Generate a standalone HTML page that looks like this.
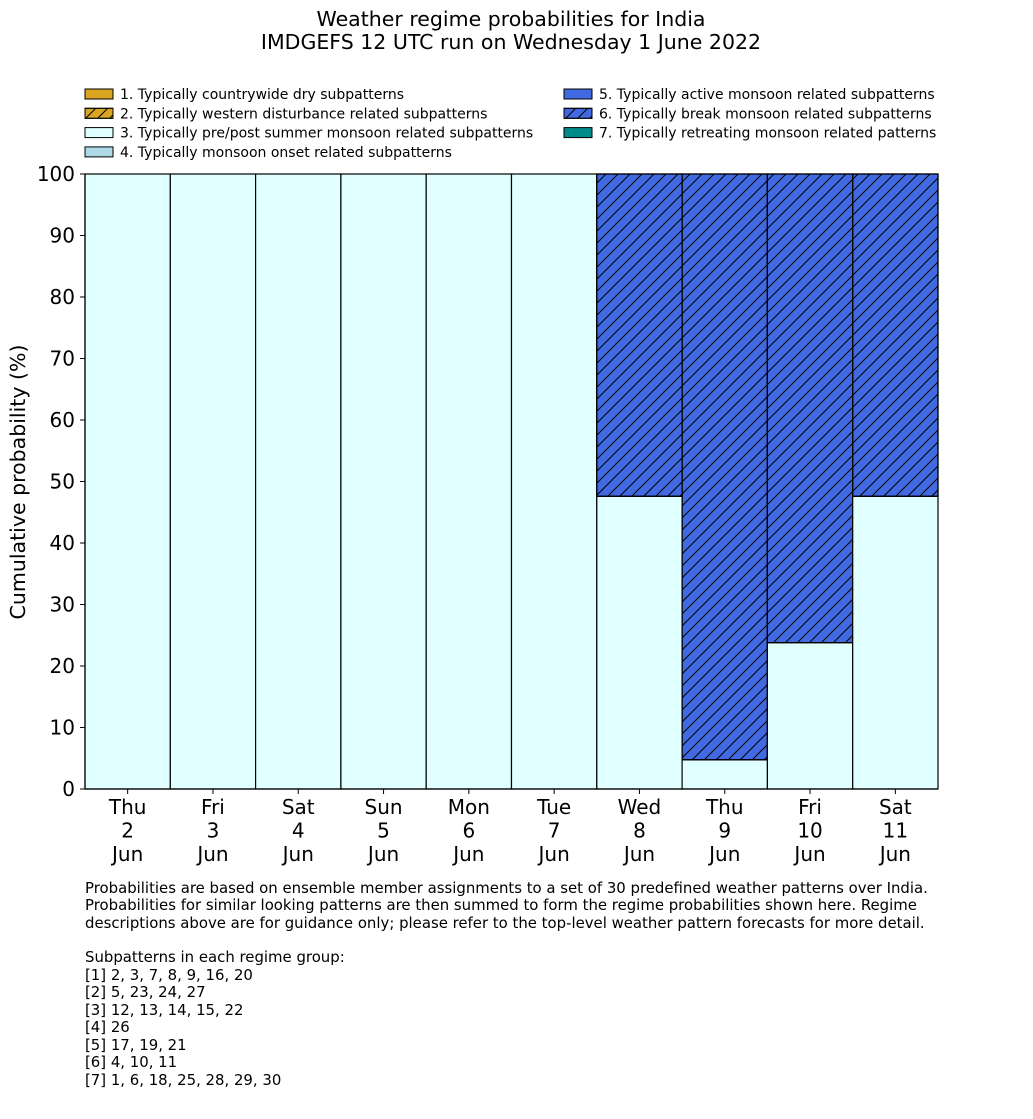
<!DOCTYPE html>
<html><head><meta charset="utf-8"><style>
body{margin:0;background:#fff}
svg text{font-family:"DejaVu Sans","Liberation Sans",sans-serif;fill:#000}
</style></head><body>
<svg id="chart" width="1033" height="1114" xmlns="http://www.w3.org/2000/svg">
<defs>
<pattern id="hatch" patternUnits="userSpaceOnUse" width="12" height="12">
<path d="M-3,3 L3,-3 M0,12 L12,0 M9,15 L15,9" stroke="#000" stroke-width="1"/>
</pattern>
</defs>
<rect width="1033" height="1114" fill="#fff"/>
<text x="511" y="26" font-size="20.5" text-anchor="middle">Weather regime probabilities for India</text>
<text x="511" y="49" font-size="20.5" text-anchor="middle">IMDGEFS 12 UTC run on Wednesday 1 June 2022</text>
<g id="legend"></g>
<g id="bars"></g>
<g id="axes"></g>
<text transform="translate(25,482) rotate(-90)" font-size="20.5" text-anchor="middle">Cumulative probability (%)</text>
<g font-size="14.9">
<text x="85" y="893">Probabilities are based on ensemble member assignments to a set of 30 predefined weather patterns over India.</text>
<text x="85" y="910">Probabilities for similar looking patterns are then summed to form the regime probabilities shown here. Regime</text>
<text x="85" y="928">descriptions above are for guidance only; please refer to the top-level weather pattern forecasts for more detail.</text>
<text x="85" y="962">Subpatterns in each regime group:</text>
<text x="85" y="980">[1] 2, 3, 7, 8, 9, 16, 20</text>
<text x="85" y="997">[2] 5, 23, 24, 27</text>
<text x="85" y="1015">[3] 12, 13, 14, 15, 22</text>
<text x="85" y="1032">[4] 26</text>
<text x="85" y="1050">[5] 17, 19, 21</text>
<text x="85" y="1067">[6] 4, 10, 11</text>
<text x="85" y="1085">[7] 1, 6, 18, 25, 28, 29, 30</text>
</g>
</svg>
<script>
const days=["Thu","Fri","Sat","Sun","Mon","Tue","Wed","Thu","Fri","Sat"];
const dates=["2","3","4","5","6","7","8","9","10","11"];
const regime3=[100,100,100,100,100,100,47.6,4.76,23.8,47.6];
const regime6=[0,0,0,0,0,0,52.4,95.24,76.2,52.4];
const yTicks=[0,10,20,30,40,50,60,70,80,90,100];
const legendLabels=["1. Typically countrywide dry subpatterns","2. Typically western disturbance related subpatterns","3. Typically pre/post summer monsoon related subpatterns","4. Typically monsoon onset related subpatterns","5. Typically active monsoon related subpatterns","6. Typically break monsoon related subpatterns","7. Typically retreating monsoon related patterns"];
const legendColors=["#daa520","#daa520","#e0ffff","#add8e6","#4169e1","#4169e1","#008b8b"];
const legendHatch=[false,true,false,false,false,true,false];
const NS="http://www.w3.org/2000/svg";
const X0=85,X1=938,Y0=789,Y1=174;
const bw=(X1-X0)/days.length;
const xs=i=>X0+i*bw;
const ys=v=>Y0-(v/100)*(Y0-Y1);
function mk(tag,attrs,parent){const e=document.createElementNS(NS,tag);for(const k in attrs)e.setAttribute(k,attrs[k]);parent.appendChild(e);return e;}
const bars=document.getElementById('bars');
days.forEach((d,i)=>{
  const a=regime3[i], b=regime6[i];
  const r=mk('rect',{x:xs(i),y:ys(a),width:bw,height:ys(0)-ys(a),fill:'#e0ffff',stroke:'#000','stroke-width':1.2},bars);
  
  
  if(b>0){
    const r2=mk('rect',{x:xs(i),y:ys(a+b),width:bw,height:ys(a)-ys(a+b),fill:'#4169e1',stroke:'#000','stroke-width':1.2},bars);
    
    
    const h=mk('rect',{x:xs(i),y:ys(a+b),width:bw,height:ys(a)-ys(a+b),fill:'url(#hatch)',stroke:'#000','stroke-width':1.2},bars);
    
    
  }
});
const ax=document.getElementById('axes');
mk('line',{x1:X0,y1:Y1,x2:X0,y2:Y0,stroke:'#000','stroke-width':1.2},ax);
mk('line',{x1:X0,y1:Y0,x2:X1,y2:Y0,stroke:'#000','stroke-width':1.2},ax);
yTicks.forEach(t=>{
  mk('line',{x1:X0-5,y1:ys(t),x2:X0,y2:ys(t),stroke:'#000'},ax);
  const tx=mk('text',{x:X0-10,y:ys(t)+7,'font-size':20,'text-anchor':'end'},ax);
  tx.textContent=t;
  
  
});
days.forEach((d,i)=>{
  const cx=xs(i)+bw/2;
  mk('line',{x1:cx,y1:Y0,x2:cx,y2:Y0+5,stroke:'#000'},ax);
  [d,dates[i],"Jun"].forEach((s,k)=>{
    const tx=mk('text',{x:cx,y:814+k*23.5,'font-size':20,'text-anchor':'middle'},ax);
    tx.textContent=s;
    
    
  });
});
const lg=document.getElementById('legend');
legendLabels.forEach((l,i)=>{
  const col=i<4?0:1, row=i<4?i:i-4;
  const px=col?564:85, py=89+row*19.3;
  mk('rect',{x:px,y:py,width:28,height:10,fill:legendColors[i],stroke:'#000','stroke-width':1},lg);
  if(legendHatch[i])mk('rect',{x:px,y:py,width:28,height:10,fill:'url(#hatch)',stroke:'#000','stroke-width':1},lg);
  const tx=mk('text',{x:px+35,y:py+10,'font-size':14},lg);
  tx.textContent=l;
  
  
});
</script>
</body></html>
